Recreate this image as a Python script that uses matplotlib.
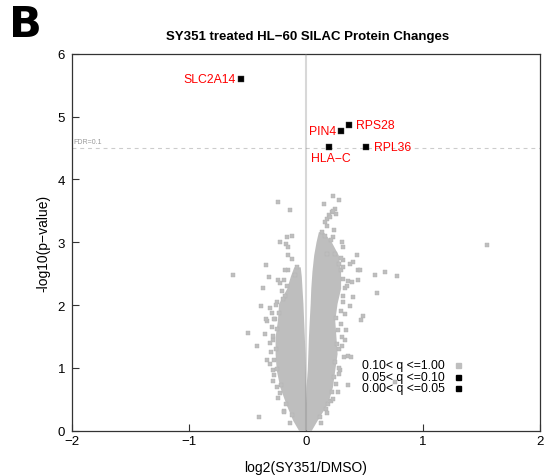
import matplotlib
matplotlib.use('Agg')
import matplotlib.pyplot as plt
import numpy as np

plt.rcParams['font.family'] = ['Liberation Sans', 'DejaVu Sans']

# dense core of the volcano, read as outline of each lobe (log2 ratio at given -log10 p)
left_y = [0.0, 0.16, 0.43, 0.69, 0.96, 1.22, 1.49, 1.75, 2.02, 2.26, 2.45, 2.60]
left_outer = [-0.06, -0.11, -0.17, -0.22, -0.25, -0.26, -0.26, -0.24, -0.23, -0.16, -0.13, -0.10]
left_inner = [0.0, 0.0, 0.0, 0.0, -0.002, -0.005, -0.01, -0.016, -0.022, -0.03, -0.036, -0.045]

right_y = [0.0, 0.16, 0.43, 0.69, 0.96, 1.22, 1.49, 1.75, 2.02, 2.26, 2.53, 2.79, 3.0, 3.16]
right_outer = [0.05, 0.10, 0.19, 0.23, 0.25, 0.27, 0.26, 0.25, 0.27, 0.30, 0.30, 0.28, 0.22, 0.15]
right_inner = [0.0, 0.0, 0.0, 0.004, 0.015, 0.02, 0.025, 0.032, 0.04, 0.045, 0.055, 0.07, 0.09, 0.11]

# scattered proteins with 0.10 < q <= 1.00
grey_x = [-0.242, -0.137, 0.234, 0.282, 0.151, 0.248, 0.219, 0.197, 0.177, 0.162, 0.256, 0.230, 0.205,
          -0.165, -0.117, -0.222, -0.174, -0.151, -0.157, -0.117, -0.345, -0.080,
          -0.621, -0.314, -0.236, -0.191, -0.151, -0.094, -0.365, -0.208, -0.179, -0.387, -0.305,
          0.134, 0.162, 0.234, 0.214, 0.310, 0.319, 0.248, 0.177,
          0.433, 0.404, 0.376, 0.447, 0.319, 0.462, 0.587, 0.675, 0.780, 0.609, 0.490, 0.470,
          0.319, 0.362, 0.390, 0.447, 0.333, 0.404, 0.376, 0.319,
          -0.498, -0.350, -0.422, -0.336, -0.265, -0.342, -0.274,
          -0.308, -0.285, -0.185, -0.399, -0.279, -0.250,
          0.362, 0.385, 0.356, 0.276, 0.305, 0.290, 0.190, 0.210, 0.262, 0.325,
          0.760, 1.544,
          -0.26, -0.27, -0.25, -0.23, -0.25, -0.21, -0.22, -0.17, -0.12, -0.28, -0.20, -0.16,
          0.27, 0.26, 0.28, 0.24, 0.22, 0.17, 0.12, 0.30, 0.32, 0.30, 0.28, 0.25,
          -0.29, -0.30, -0.27, -0.24, -0.19, -0.14, -0.31, -0.26, -0.22, -0.18, -0.29, -0.33, -0.25, -0.28,
          0.30, 0.31, 0.28, 0.26, 0.23, 0.18, 0.13, 0.34, 0.33, 0.35, 0.32, 0.30, 0.28, 0.33, 0.24, 0.18]
grey_y = [3.64, 3.51, 3.73, 3.67, 3.61, 3.53, 3.48, 3.43, 3.37, 3.32, 3.45, 3.50, 3.40,
          3.08, 3.10, 3.00, 2.97, 2.92, 2.79, 2.73, 2.63, 2.61,
          2.48, 2.44, 2.40, 2.40, 2.55, 2.48, 2.27, 2.23, 2.15, 1.98, 1.95,
          3.16, 3.10, 3.08, 3.03, 3.00, 2.92, 2.81, 2.81,
          2.79, 2.68, 2.65, 2.55, 2.71, 2.55, 2.48, 2.52, 2.46, 2.19, 1.83, 1.76,
          2.42, 2.39, 2.36, 2.40, 2.27, 2.12, 1.99, 2.15,
          1.55, 1.54, 1.34, 1.75, 1.77, 1.78, 1.77,
          1.06, 0.79, 0.32, 0.21, 0.96, 0.98,
          1.19, 1.18, 0.72, 0.61, 1.49, 0.96, 0.43, 0.48, 1.38, 1.17,
          0.78, 2.96,
          1.30, 1.12, 1.62, 1.88, 2.05, 0.72, 0.60, 0.42, 0.25, 1.44, 2.10, 2.30,
          1.60, 1.80, 1.30, 0.85, 0.62, 0.35, 0.22, 1.90, 2.05, 2.55, 2.65, 1.10,
          1.65, 1.25, 0.88, 0.52, 0.30, 0.12, 1.40, 2.00, 2.35, 2.55, 1.88, 1.12, 0.70, 1.50,
          1.70, 1.35, 1.00, 0.75, 0.50, 0.28, 0.12, 1.60, 1.85, 2.30, 2.60, 2.75, 0.90, 1.45, 3.20, 3.25]

# significant proteins
hit_names = ['SLC2A14', 'RPS28', 'PIN4', 'HLA\u2212C', 'RPL36']
hit_x = [-0.556, 0.367, 0.302, 0.199, 0.513]
hit_y = [5.60, 4.86, 4.77, 4.51, 4.51]
fdr_level = 4.5

legend_labels = ['0.10< q <=1.00', '0.05< q <=0.10', '0.00< q <=0.05']
legend_colors = ['#bebebe', 'black', 'black']

grey = '#bebebe'

fig = plt.figure(figsize=(5.46, 4.77), dpi=100)
ax = fig.add_axes([0.1319, 0.095, 0.8571, 0.7903])

# dense core
ax.fill(np.concatenate([left_outer, left_inner[::-1]]), np.concatenate([left_y, left_y[::-1]]),
        color=grey, lw=0, zorder=2)
ax.fill(np.concatenate([right_outer, right_inner[::-1]]), np.concatenate([right_y, right_y[::-1]]),
        color=grey, lw=0, zorder=2)
ax.scatter(grey_x, grey_y, marker='s', s=10, color=grey, edgecolors='#b0b0b0', linewidths=0.3, zorder=2)

# reference lines
ax.axvline(0, color='#808080', alpha=0.3, lw=1.5, zorder=3)
ax.axhline(fdr_level, color='#cccccc', lw=0.8, ls=(0, (3.5, 3.5)), zorder=1)
ax.text(-1.985, fdr_level + 0.04, 'FDR=0.1', fontsize=5, color='#999999', va='bottom', ha='left')

ax.scatter(hit_x, hit_y, marker='s', s=16, color='black', edgecolors='#444444', linewidths=0.3, zorder=4)

# gene labels: offsets in points
offsets = [(-4, 0, 'right', 'center'), (5, 0, 'left', 'center'), (-4, 0, 'right', 'center'),
           (1, -7.5, 'center', 'center'), (5.5, 0, 'left', 'center')]
for name, x, y, (dx, dy, ha, va) in zip(hit_names, hit_x, hit_y, offsets):
    ax.annotate(name, (x, y), xytext=(dx, dy), textcoords='offset points',
                ha=ha, va=va, color='red', fontsize=8.8)

# legend like the R one: text then marker
for i, (lab, col) in enumerate(zip(legend_labels, legend_colors)):
    yy = 0.174 - i * 0.0305
    ax.text(0.619, yy, lab, transform=ax.transAxes, fontsize=8.8, va='center', ha='left')
    ax.plot([0.825], [yy], transform=ax.transAxes, marker='s', ms=3.6, color=col, ls='none')

ax.set_xlim(-2, 2)
ax.set_ylim(0, 6)
ax.set_xticks([-2, -1, 0, 1, 2])
ax.set_yticks([0, 1, 2, 3, 4, 5, 6])
ax.tick_params(direction='in', length=5, width=0.8, labelsize=9.5, color='#333333')
ax.tick_params(axis='y', pad=5)
ax.tick_params(axis='x', pad=3)
for sp in ax.spines.values():
    sp.set_color('#333333')
    sp.set_linewidth(0.9)

ax.set_xlabel('log2(SY351/DMSO)', fontsize=10)
ax.set_ylabel('-log10(p\u2212value)', fontsize=10)
ax.xaxis.set_label_coords(0.5, -0.096)
ax.xaxis.label.set_va('center')
ax.yaxis.set_label_coords(-0.062, 0.5)
ax.yaxis.label.set_va('center')

ax.text(0.503, 1.047, 'SY351 treated HL\u221260 SILAC Protein Changes', transform=ax.transAxes,
        ha='center', va='center', fontsize=9.5, fontweight='bold')

fig.text(0.017, 0.9224, 'B', fontsize=31, fontweight='bold', family='DejaVu Sans', va='baseline')

fig.savefig('out.png', dpi=100)
